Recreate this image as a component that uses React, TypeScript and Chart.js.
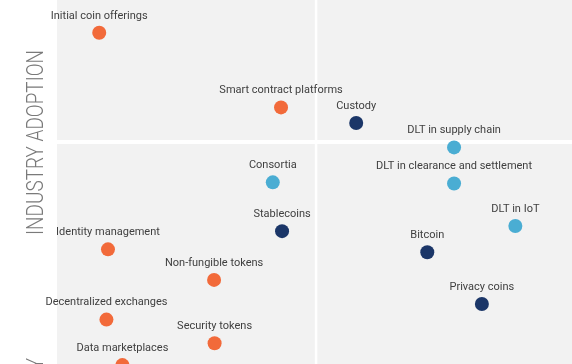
import { useEffect, useRef } from "react";
import { Chart, registerables } from "chart.js";

Chart.register(...registerables);

// ---- Data ----
const orangeLabels = [
  "Initial coin offerings",
  "Smart contract platforms",
  "Identity management",
  "Non-fungible tokens",
  "Decentralized exchanges",
  "Security tokens",
  "Data marketplaces",
];
const orangeX = [0.82, 4.35, 0.99, 3.05, 0.96, 3.06, 1.27];
const orangeY = [9.1, 7.05, 3.15, 2.31, 1.22, 0.57, -0.03];

const lightLabels = [
  "DLT in supply chain",
  "Consortia",
  "DLT in clearance and settlement",
  "DLT in IoT",
];
const lightX = [7.71, 4.19, 7.71, 8.9];
const lightY = [5.95, 4.99, 4.96, 3.79];

const navyLabels = ["Custody", "Stablecoins", "Bitcoin", "Privacy coins"];
const navyX = [5.81, 4.37, 7.19, 8.25];
const navyY = [6.62, 3.65, 3.07, 1.65];

const X_MIN = 0;
const X_MAX = 10;
const Y_MIN = 0;
const Y_MAX = 10;
const DIVIDER_X = 5.03;
const DIVIDER_Y = 6.1;

const Y_TITLE = "INDUSTRY ADOPTION";
const Y_TITLE_2 = "Y";

const COLORS = {
  orange: "#F26A3A",
  light: "#4AADD3",
  navy: "#1B3668",
};

const toPoints = (xs: number[], ys: number[]) =>
  xs.map((x, i) => ({ x, y: ys[i] }));

const quadrantPlugin = {
  id: "quadrants",
  beforeDatasetsDraw(chart: any) {
    const { ctx, chartArea: a, scales } = chart;
    const x = scales.x;
    const y = scales.y;
    ctx.save();
    ctx.fillStyle = "#f2f2f2";
    ctx.fillRect(a.left, a.top, a.right - a.left, a.bottom - a.top);
    ctx.fillStyle = "#ffffff";
    const vx = x.getPixelForValue(DIVIDER_X);
    const hy = y.getPixelForValue(DIVIDER_Y);
    ctx.fillRect(vx - 1.25, a.top, 2.5, a.bottom - a.top);
    ctx.fillRect(a.left, hy - 2, a.right - a.left, 4);
    ctx.restore();
  },
};

const labelPlugin = {
  id: "pointLabels",
  afterDatasetsDraw(chart: any) {
    const { ctx } = chart;
    ctx.save();
    ctx.font = "11px Roboto";
    ctx.fillStyle = "#404040";
    ctx.textAlign = "center";
    ctx.textBaseline = "middle";
    chart.data.datasets.forEach((ds: any, di: number) => {
      const meta = chart.getDatasetMeta(di);
      meta.data.forEach((pt: any, i: number) => {
        ctx.fillText(ds.pointLabels[i], pt.x, pt.y - 17);
      });
    });
    ctx.restore();
  },
};

const titlePlugin = {
  id: "yTitle",
  afterDraw(chart: any) {
    const { ctx } = chart;
    ctx.save();
    ctx.font = "300 23px Roboto";
    ctx.fillStyle = "#7a7a7a";
    ctx.textBaseline = "alphabetic";
    const w = ctx.measureText(Y_TITLE).width;
    const targetLen = 185;
    const sx = targetLen / w;
    ctx.translate(43, 142.5);
    ctx.rotate(-Math.PI / 2);
    ctx.scale(sx, 1);
    ctx.textAlign = "center";
    ctx.fillText(Y_TITLE, 0, 0);
    ctx.restore();

    ctx.save();
    ctx.font = "300 23px Roboto";
    ctx.fillStyle = "#7a7a7a";
    ctx.translate(43, 358);
    ctx.rotate(-Math.PI / 2);
    ctx.scale(sx, 1);
    ctx.textAlign = "right";
    ctx.fillText(Y_TITLE_2, 0, 0);
    ctx.restore();
  },
};

export default function App() {
  const ref = useRef<HTMLCanvasElement | null>(null);

  useEffect(() => {
    if (!ref.current) return;
    const mk = (labels: string[], xs: number[], ys: number[], color: string) => ({
      data: toPoints(xs, ys),
      pointLabels: labels,
      backgroundColor: color,
      borderWidth: 0,
      pointRadius: 7,
      pointHoverRadius: 7,
      clip: false,
    });
    const chart = new Chart(ref.current, {
      type: "scatter",
      data: {
        datasets: [
          mk(orangeLabels, orangeX, orangeY, COLORS.orange),
          mk(lightLabels, lightX, lightY, COLORS.light),
          mk(navyLabels, navyX, navyY, COLORS.navy),
        ] as any,
      },
      options: {
        animation: false,
        responsive: false,
        events: [],
        layout: {
          autoPadding: false,
          padding: { left: 57, top: 0, right: 0, bottom: 0 },
        },
        scales: {
          x: { type: "linear", min: X_MIN, max: X_MAX, display: false },
          y: { type: "linear", min: Y_MIN, max: Y_MAX, display: false },
        },
        plugins: {
          legend: { display: false },
          tooltip: { enabled: false },
        },
      } as any,
      plugins: [quadrantPlugin, labelPlugin, titlePlugin],
    });
    return () => chart.destroy();
  }, []);

  return (
    <div style={{ position: "absolute", left: 0, top: 0, width: 572, height: 364, overflow: "hidden" }}>
      <canvas ref={ref} width={572} height={364} style={{ display: "block" }} />
    </div>
  );
}
